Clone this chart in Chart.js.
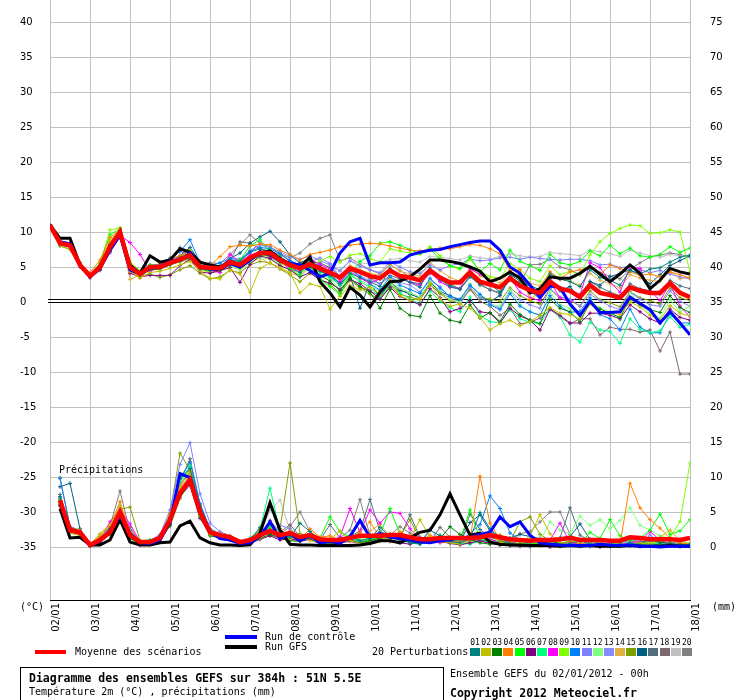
<!DOCTYPE html>
<html>
<head>
<meta charset="utf-8">
<script src="https://cdn.jsdelivr.net/npm/chart.js@4.4.1/dist/chart.umd.min.js"></script>
<style>
  body { margin: 0; background: #fff; }
  #wrap { position: relative; width: 740px; height: 700px; overflow: hidden; }
  #c { position: absolute; left: 0; top: 0; }
  .t { position: absolute; font-family: 'DejaVu Sans Mono', monospace; font-size: 10px; line-height: 10px; white-space: nowrap; color: #000; }
  .b { font-weight: bold; font-size: 11.5px; line-height: 12px; }
  .sw { position: absolute; height: 4px; width: 32px; }
  .box { position: absolute; width: 10px; height: 8px; }
  .num { position: absolute; font-family: 'DejaVu Sans Mono', monospace; font-size: 8px; line-height: 8px; width: 11px; text-align: center; }
  #frame { position: absolute; left: 20px; top: 667px; width: 422px; height: 40px; border: 1px solid #000; }
</style>
</head>
<body>
<div id="wrap">
  <canvas id="c" width="740" height="640"></canvas>
  <div class="t" style="left:20px;top:602px">(°C)</div>
  <div class="t" style="left:712px;top:602px">(mm)</div>
  <div class="t" style="left:59px;top:465px">Précipitations</div>

  <div class="sw" style="left:225px;top:635px;background:#0000ff"></div>
  <div class="t" style="left:265px;top:632px">Run de contrôle</div>
  <div class="sw" style="left:225px;top:645px;background:#000"></div>
  <div class="t" style="left:265px;top:642px">Run GFS</div>
  <div class="sw" style="left:35px;top:650px;width:31px;background:#ff0000"></div>
  <div class="t" style="left:75px;top:647px">Moyenne des scénarios</div>
  <div class="t" style="left:372px;top:647px">20 Perturbations</div>
  <div id="boxes"></div>

  <div id="frame"></div>
  <div class="t b" style="left:29px;top:672px">Diagramme des ensembles GEFS sur 384h : 51N 5.5E</div>
  <div class="t" style="left:29px;top:687px">Température 2m (°C) , précipitations (mm)</div>
  <div class="t" style="left:450px;top:669px">Ensemble GEFS du 02/01/2012 - 00h</div>
  <div class="t b" style="left:450px;top:687px">Copyright 2012 Meteociel.fr</div>
</div>
<script>
// run 02/01/2012 00h, one value every 6h up to 384h
const dayLabels = ['02/01', '03/01', '04/01', '05/01', '06/01', '07/01', '08/01', '09/01', '10/01',
    '11/01', '12/01', '13/01', '14/01', '15/01', '16/01', '17/01', '18/01'];
const tempTicks = [-35, -30, -25, -20, -15, -10, -5, 0, 5, 10, 15, 20, 25, 30, 35, 40];
const mmTicks = [0, 5, 10, 15, 20, 25, 30, 35, 40, 45, 50, 55, 60, 65, 70, 75];

const pertColors = ['#008080', '#c0c000', '#008000', '#ff8000', '#00ff00', '#800080', '#00ff80',
    '#ff00ff', '#80ff00', '#0080ff', '#8080ff', '#80ff80', '#8888ff', '#e0b040', '#80a000',
    '#006080', '#507080', '#806870', '#c0c0c0', '#808080'];

// temperature 2m (°C)
const tMean = [11.0, 8.4, 8.1, 5.3, 3.7, 5.0, 7.9, 10.0, 5.0, 4.0, 5.0, 5.0, 5.6, 6.1, 6.7, 5.0,
    4.9, 4.8, 5.7, 5.3, 6.3, 7.0, 7.0, 6.0, 5.3, 4.8, 5.4, 4.8, 4.2, 3.5, 4.8, 4.3,
    3.7, 3.4, 4.5, 3.7, 3.5, 3.1, 4.5, 3.5, 2.8, 2.8, 4.2, 2.9, 2.5, 2.1, 3.4, 2.3,
    1.7, 1.3, 2.9, 1.9, 1.6, 0.7, 2.4, 1.3, 1.0, 0.6, 2.1, 1.6, 1.3, 1.3, 2.7, 1.3, 0.7];
const tCtrl = [11.0, 8.6, 8.3, 5.2, 3.6, 4.8, 7.5, 9.6, 4.6, 4.0, 4.8, 5.1, 5.8, 6.0, 7.0, 5.0,
    4.7, 4.6, 5.5, 5.0, 6.0, 7.2, 6.8, 5.8, 5.5, 5.3, 4.5, 3.6, 4.1, 7.0, 8.6, 9.1,
    5.3, 5.6, 5.6, 5.7, 6.7, 7.1, 7.4, 7.5, 7.9, 8.2, 8.5, 8.7, 8.7, 7.4, 5.0, 4.1,
    2.4, 0.7, 2.3, 2.1, -0.3, -1.9, 0.1, -1.5, -1.5, -1.4, 0.7, -0.2, -1.1, -3.0, -1.4, -3.0, -4.7];
const tGfs = [11.0, 9.1, 9.1, 5.3, 3.7, 4.9, 7.7, 10.0, 5.3, 4.1, 6.6, 5.7, 6.0, 7.6, 7.1, 5.7,
    5.3, 5.0, 5.8, 5.0, 6.0, 7.0, 7.3, 6.2, 5.5, 5.0, 6.4, 2.9, 1.3, -0.7, 2.1, 1.0,
    -0.7, 1.4, 2.9, 3.0, 3.6, 4.7, 6.0, 6.0, 5.8, 5.5, 5.0, 4.4, 2.9, 3.4, 4.3, 3.4,
    1.3, 1.9, 3.6, 3.4, 3.4, 4.1, 5.1, 4.0, 2.9, 4.0, 5.3, 4.1, 1.9, 3.1, 4.8, 4.3, 4.0];

const tP01 = [11.0, 8.2, 8.0, 5.2, 3.8, 5.2, 8.2, 10.2, 4.8, 3.8, 4.9, 5.2, 5.9, 6.3, 7.0, 4.8,
    4.6, 4.9, 6.0, 5.8, 7.1, 7.6, 7.2, 6.4, 5.1, 4.2, 5.9, 4.4, 3.8, 2.6, 4.1, 3.5,
    2.9, 2.2, 4.8, 3.4, 2.8, 2.1, 4.9, 3.2, 2.2, 1.8, 3.6, 2.5, 2.6, 1.4, 3.9, 3.0,
    2.4, 1.7, 4.0, 3.3, 2.9, 2.2, 4.6, 3.5, 3.1, 2.4, 4.5, 4.0, 4.7, 4.9, 5.7, 6.4, 6.7];
const tP02 = [11.0, 8.0, 7.6, 5.1, 3.9, 5.4, 8.8, 10.5, 4.4, 3.5, 4.2, 4.4, 4.8, 5.3, 5.8, 4.4,
    3.4, 3.3, 4.6, 4.0, 1.4, 4.8, 5.6, 4.9, 4.2, 1.3, 2.6, 2.2, -1.0, 0.8, 2.4, 1.7,
    2.1, 1.1, 3.2, 0.9, 0.2, 0.5, 2.7, 0.4, -0.6, -0.3, -0.9, -2.2, -4.0, -3.1, -2.6, -3.4,
    -2.8, -1.9, -0.8, -1.6, -1.8, -2.4, -0.3, -1.4, -1.4, -1.8, 0.0, -0.7, -1.9, -2.6, -0.5, -1.6, -2.0];
const tP03 = [11.0, 8.5, 8.3, 5.3, 3.5, 4.7, 7.4, 9.6, 5.1, 3.7, 4.6, 4.7, 5.3, 5.8, 6.3, 4.7,
    4.5, 4.6, 5.3, 5.0, 6.2, 6.8, 6.6, 5.8, 5.4, 4.6, 5.0, 3.8, 3.0, 1.6, 3.4, 2.2,
    1.4, -0.9, 1.8, -0.9, -1.9, -2.1, 0.9, -1.6, -2.6, -2.9, -0.4, -2.3, -1.5, -2.8, -0.3, -1.8,
    -2.6, -3.1, 0.4, -0.9, -1.4, -2.8, -0.1, -1.0, -1.6, -2.2, 0.4, -0.4, -1.1, -1.5, 0.9, -0.8, -1.5];
const tP04 = [11.0, 8.6, 8.3, 5.5, 4.2, 6.0, 9.2, 10.4, 4.4, 3.4, 4.9, 5.5, 6.2, 6.6, 7.3, 5.8,
    5.2, 6.5, 7.9, 8.1, 8.0, 8.3, 8.2, 7.4, 6.8, 6.0, 6.8, 7.1, 7.4, 7.9, 8.1, 8.3,
    8.4, 8.3, 8.0, 7.7, 7.4, 7.3, 7.5, 7.7, 7.6, 7.9, 8.2, 8.1, 7.6, 6.9, 4.5, 4.6,
    0.3, 1.5, 4.3, 3.3, 4.3, 4.6, 4.9, 3.9, 5.3, 4.8, 4.3, 3.8, 4.0, 3.6, 4.3, 3.9, 3.4];
const tP05 = [11.0, 8.3, 8.0, 5.4, 3.9, 5.6, 9.6, 10.5, 5.5, 4.2, 5.3, 5.2, 5.7, 6.4, 7.4, 5.3,
    4.6, 4.9, 5.6, 6.0, 8.0, 8.9, 7.1, 6.5, 4.8, 3.8, 6.0, 3.2, 2.2, 1.0, 3.9, 5.8,
    6.6, 8.4, 8.6, 8.1, 7.5, 6.9, 7.6, 6.1, 5.2, 4.8, 6.4, 4.3, 5.5, 4.6, 7.4, 5.8,
    5.2, 4.5, 6.8, 5.6, 5.3, 5.8, 7.3, 6.6, 8.1, 6.9, 7.7, 6.6, 6.4, 6.8, 7.9, 7.1, 7.7];
const tP06 = [11.0, 8.3, 8.0, 5.2, 3.6, 4.6, 7.2, 9.2, 4.1, 3.6, 3.8, 3.8, 3.8, 5.2, 6.1, 4.3,
    4.1, 4.5, 4.9, 2.8, 5.4, 6.6, 6.2, 5.2, 4.6, 3.6, 4.2, 3.1, 2.7, 1.8, 3.2, 2.6,
    1.6, 0.4, 2.1, 0.8, 0.2, -0.4, 1.9, 0.6, -1.4, -0.9, 0.2, -1.4, -1.6, -3.0, -0.9, -2.0,
    -2.6, -4.0, -1.0, -1.9, -3.0, -3.0, -1.6, -1.6, -1.9, -2.4, -0.4, -1.4, -2.4, -3.0, -1.0, -2.2, -2.6];
const tP07 = [11.0, 8.5, 8.2, 5.3, 3.8, 5.1, 8.3, 10.2, 5.3, 4.3, 4.9, 5.0, 5.6, 6.0, 6.8, 5.1,
    4.8, 4.7, 5.4, 5.1, 6.0, 6.5, 7.5, 6.2, 5.5, 4.9, 5.5, 4.4, 3.5, 2.4, 3.9, 2.9,
    2.1, 0.6, 2.6, 1.3, 0.4, -0.3, 1.6, 0.1, -0.8, -1.4, 0.7, -1.9, -2.8, -3.0, -1.1, -2.4,
    -2.9, -3.1, -0.8, -2.1, -4.7, -5.7, -2.9, -4.0, -4.2, -5.9, -2.4, -3.9, -4.4, -4.1, -2.1, -3.6, -3.2];
const tP08 = [11.0, 8.4, 8.2, 5.4, 3.9, 5.3, 7.6, 9.5, 8.5, 6.8, 4.4, 4.9, 5.4, 6.2, 6.5, 4.9,
    4.5, 4.2, 6.8, 5.7, 6.7, 7.2, 6.4, 5.9, 4.7, 4.3, 6.1, 5.4, 4.7, 2.9, 4.4, 3.4,
    2.7, 3.3, 4.6, 3.6, 2.8, 2.4, 4.2, 2.9, 2.1, 1.9, 4.7, 4.0, 2.9, 2.2, 3.5, 1.4,
    0.6, 0.2, 2.9, 0.6, -0.1, 1.0, 5.6, 4.9, 2.9, 1.4, 5.0, 4.8, 1.6, 0.2, 2.6, -0.6, -2.1];
const tP09 = [11.0, 8.6, 8.4, 5.4, 3.8, 5.5, 10.3, 10.6, 5.8, 4.4, 5.1, 5.1, 5.7, 6.1, 6.5, 4.9,
    4.2, 4.5, 5.4, 4.9, 5.8, 6.8, 6.4, 5.5, 4.9, 4.2, 4.9, 5.9, 6.5, 5.7, 6.7, 6.9,
    6.2, 5.7, 7.6, 7.3, 7.0, 6.8, 7.9, 6.6, 5.1, 4.7, 6.1, 4.5, 3.6, 3.4, 5.5, 4.6,
    3.4, 2.9, 5.2, 3.9, 4.4, 3.9, 6.7, 8.6, 9.8, 10.5, 11.0, 10.9, 9.8, 9.9, 10.3, 10.0, 4.3];
const tP10 = [11.0, 8.5, 8.2, 5.2, 3.7, 4.8, 7.7, 10.1, 5.2, 4.1, 5.2, 5.4, 6.3, 7.2, 8.9, 5.6,
    5.2, 5.6, 6.2, 6.1, 7.2, 7.8, 7.6, 6.9, 5.9, 5.3, 5.7, 5.2, 3.8, 2.7, 4.7, 3.6,
    2.6, 1.7, 3.6, 2.4, 1.8, 1.2, 3.4, 2.0, 0.8, 0.4, 2.4, 1.1, -0.4, -1.1, 1.2, -0.6,
    -1.4, -1.9, 0.9, -0.6, -1.5, -1.3, 0.6, -1.8, -2.4, -4.0, -1.0, -3.6, -4.4, -4.4, -1.6, -3.0, -3.0];
const tP11 = [11.0, 8.1, 7.9, 5.0, 3.4, 4.5, 7.0, 9.4, 4.9, 3.9, 4.8, 5.3, 5.9, 6.6, 7.5, 5.5,
    5.4, 5.1, 6.1, 5.8, 7.4, 8.1, 7.8, 7.2, 6.5, 6.1, 6.6, 5.9, 5.3, 4.4, 5.9, 5.1,
    4.6, 4.2, 5.7, 5.0, 4.3, 4.1, 5.3, 4.6, 5.2, 5.5, 6.1, 5.9, 6.0, 6.3, 6.4, 6.1,
    6.4, 6.2, 6.1, 6.0, 6.1, 6.1, 5.9, 5.3, 5.4, 4.9, 5.1, 4.6, 4.2, 4.5, 4.0, 3.6, 3.3];
const tP12 = [11.0, 8.3, 8.1, 5.4, 3.7, 5.0, 8.0, 9.9, 4.8, 3.9, 5.1, 4.8, 5.3, 5.9, 6.4, 4.6,
    4.4, 4.3, 5.1, 4.7, 5.6, 6.4, 6.1, 5.3, 4.5, 3.6, 4.9, 4.0, 3.4, 1.7, 4.0, 3.1,
    2.4, 1.5, 3.3, 2.0, 1.3, 0.7, 3.0, 1.6, 0.4, 0.0, 2.6, 1.0, -0.4, -0.6, 1.7, -0.4,
    -1.4, -1.9, 1.4, -0.4, -0.9, -2.1, 0.4, -0.9, -1.4, -2.6, 1.3, -0.4, -1.6, -2.3, 0.3, -1.4, -0.6];
const tP13 = [11.0, 8.2, 7.8, 5.1, 3.6, 4.8, 7.6, 9.7, 5.1, 4.1, 5.2, 5.4, 5.7, 6.2, 6.6, 5.1,
    5.0, 4.6, 5.8, 5.4, 6.9, 8.6, 7.3, 6.1, 5.6, 5.0, 5.8, 6.3, 5.5, 3.6, 4.7, 3.7,
    3.1, 2.6, 3.6, 2.8, 2.4, 1.4, 3.1, 2.2, 0.6, -0.4, 2.1, 0.6, -0.2, -0.9, 1.6, 0.3,
    -0.4, -0.9, 1.9, 0.7, 0.4, -0.6, 1.1, 0.2, -0.6, -1.1, 1.4, 0.4, -0.4, -0.6, 1.6, 0.1, -0.6];
const tP14 = [11.0, 8.4, 8.2, 5.4, 3.9, 5.1, 8.0, 9.9, 3.2, 3.9, 4.7, 4.8, 5.3, 5.7, 6.1, 4.6,
    4.2, 4.4, 5.1, 4.6, 5.6, 6.3, 5.5, 4.8, 4.1, 3.7, 5.1, 4.4, 4.2, 3.5, 5.2, 4.6,
    4.1, 3.8, 5.4, 4.4, 4.0, 3.7, 5.7, 4.5, 3.5, 3.0, 4.9, 3.7, 3.3, 2.7, 4.3, 3.4,
    2.7, 2.3, 4.3, 3.2, 3.0, 2.4, 4.1, 3.1, 2.6, 2.0, 3.9, 3.4, 3.1, 2.9, 4.4, 3.3, 3.6];
const tP15 = [11.0, 8.0, 7.5, 5.0, 3.8, 5.2, 8.6, 10.1, 4.6, 3.7, 4.0, 3.5, 3.9, 4.6, 5.2, 4.1,
    3.3, 3.6, 4.5, 4.2, 5.3, 5.8, 5.6, 4.7, 3.9, 2.9, 4.1, 3.3, 2.5, 1.2, 3.1, 2.0,
    1.1, 0.4, 2.3, 1.1, 0.7, 0.3, 2.5, 1.2, 0.2, -0.2, 1.8, 0.6, 0.4, 0.1, 2.0, 0.9,
    0.2, -0.3, 1.9, 0.5, 0.2, -0.6, 1.6, 0.3, -0.1, -0.7, 1.5, 0.6, 0.2, -0.3, 2.0, 0.6, 0.2];
const tP16 = [11.0, 8.6, 8.4, 5.6, 3.9, 5.2, 8.0, 9.8, 4.7, 3.8, 4.7, 4.9, 5.5, 6.6, 7.8, 5.7,
    5.4, 5.1, 6.2, 7.0, 8.4, 9.3, 10.1, 8.6, 6.7, 5.6, 6.2, 5.0, 4.1, 2.6, 3.9, -0.9,
    2.8, 0.6, 2.9, 1.7, 1.1, 0.6, 2.8, 1.5, 0.9, 0.2, 2.4, 1.0, 0.1, 0.9, 3.6, 3.9,
    1.7, 0.4, 3.4, 1.6, 2.2, 0.5, 2.9, 2.4, 3.6, 4.1, 4.6, 3.9, 2.6, 3.9, 5.2, 5.9, 6.6];
const tP17 = [11.0, 8.4, 8.1, 5.3, 3.7, 5.0, 7.8, 10.0, 5.1, 4.0, 5.0, 4.9, 5.4, 6.0, 6.5, 4.9,
    4.6, 4.9, 5.6, 5.2, 6.2, 6.7, 6.9, 6.1, 5.6, 5.1, 5.6, 5.6, 4.9, 3.7, 4.9, 4.3,
    3.4, 2.6, 3.8, 3.3, 2.9, 2.6, 4.1, 3.3, 2.4, 1.9, 3.6, 2.6, 1.7, 1.4, 3.1, 2.4,
    1.4, 0.9, 2.6, 1.8, 1.6, 1.1, 2.9, 2.1, 1.4, 0.9, 2.6, 1.9, 1.6, 1.1, 3.1, 2.3, 1.9];
const tP18 = [11.0, 8.4, 8.0, 5.2, 3.8, 5.0, 8.2, 10.3, 5.0, 4.1, 5.1, 5.3, 6.0, 7.3, 6.4, 5.0,
    4.7, 4.9, 5.9, 8.6, 8.4, 7.6, 7.2, 6.8, 5.9, 5.3, 5.0, 4.4, 3.6, 2.4, 3.4, 2.2,
    1.5, 1.0, 2.4, 1.6, 1.4, 0.4, 2.5, 1.3, 0.6, 0.1, 1.8, 0.1, -0.6, -1.9, -0.9, -3.1,
    -2.9, -2.3, -1.1, -2.1, -3.1, -2.4, -2.4, -4.7, -3.6, -3.9, -3.9, -4.3, -4.0, -7.0, -4.3, -10.3, -10.3];
const tP19 = [11.0, 8.3, 8.0, 5.3, 3.8, 5.0, 7.7, 9.8, 5.0, 4.0, 4.9, 5.0, 5.7, 6.1, 6.6, 5.1,
    4.8, 4.8, 5.6, 5.3, 6.3, 7.0, 6.8, 6.1, 5.3, 4.9, 5.4, 5.1, 4.9, 4.6, 5.8, 5.6,
    5.4, 5.6, 6.1, 6.2, 5.9, 5.7, 6.5, 6.4, 6.2, 6.0, 6.6, 6.3, 6.2, 6.5, 6.9, 6.6,
    6.4, 6.5, 7.1, 6.9, 6.8, 6.6, 7.4, 7.2, 6.9, 6.5, 7.4, 7.0, 6.6, 6.4, 6.8, 6.6, 6.4];
const tP20 = [11.0, 8.2, 7.9, 5.2, 3.6, 4.9, 8.4, 10.4, 5.4, 4.3, 5.3, 5.1, 5.9, 7.8, 7.2, 5.4,
    5.6, 5.5, 6.8, 8.2, 9.6, 8.4, 7.9, 6.9, 6.3, 7.0, 8.3, 9.1, 9.6, 5.9, 6.3, 5.4,
    4.6, 4.0, 5.3, 4.5, 3.5, 3.1, 4.6, 3.4, 2.5, 1.9, 3.7, 2.4, 1.8, 1.1, 3.6, 2.7,
    5.3, 5.4, 6.1, 5.0, 4.6, 3.9, 5.1, 4.2, 3.7, 3.3, 4.6, 5.6, 6.4, 6.7, 7.0, 6.8, 6.4];

// precipitations (mm per 6h), nothing at 0h
const pMean = [null, 6.7, 2.4, 2.1, 0.3, 1.0, 2.1, 5.0, 1.7, 0.7, 0.7, 1.3, 3.9, 7.7, 9.6, 5.0,
    2.1, 1.7, 1.4, 0.7, 1.0, 1.7, 2.3, 1.7, 2.0, 1.4, 1.7, 1.1, 1.0, 1.0, 1.3, 1.6,
    1.6, 1.6, 1.7, 1.7, 1.4, 1.1, 1.1, 1.3, 1.3, 1.3, 1.3, 1.4, 1.7, 1.4, 1.1, 1.0,
    0.9, 1.0, 1.0, 1.1, 1.3, 1.0, 1.0, 1.0, 0.9, 0.9, 1.4, 1.3, 1.1, 1.1, 1.1, 1.0, 1.3];
const pCtrl = [null, 6.2, 2.6, 2.0, 0.2, 0.8, 2.4, 4.4, 1.9, 0.6, 0.5, 1.0, 3.5, 10.5, 9.9, 5.2,
    2.2, 1.2, 1.0, 0.5, 0.6, 1.5, 3.6, 1.2, 1.9, 0.9, 1.6, 0.6, 0.8, 0.5, 1.5, 3.8,
    1.4, 1.9, 1.4, 1.2, 1.0, 0.7, 0.6, 0.9, 1.0, 1.4, 1.3, 1.8, 2.1, 4.3, 2.9, 3.6,
    1.7, 0.6, 0.4, 0.3, 0.2, 0.2, 0.2, 0.4, 0.3, 0.2, 0.3, 0.1, 0.1, 0.0, 0.1, 0.1, 0.1];
const pGfs = [null, 5.5, 1.3, 1.4, 0.3, 0.3, 1.0, 3.9, 0.7, 0.3, 0.3, 0.6, 0.7, 3.0, 3.7, 1.3,
    0.6, 0.3, 0.3, 0.2, 0.3, 2.0, 6.3, 2.4, 0.4, 0.3, 0.3, 0.2, 0.2, 0.2, 0.2, 0.3,
    0.5, 0.9, 0.9, 0.6, 1.3, 2.1, 2.4, 4.6, 7.6, 4.6, 1.7, 2.0, 0.7, 0.4, 0.3, 0.3,
    0.2, 0.2, 0.2, 0.1, 0.2, 0.1, 0.2, 0.1, 0.1, 0.1, 0.2, 0.1, 0.1, 0.1, 0.2, 0.1, 0.1];

const pP01 = [null, 7.2, 2.5, 2.2, 0.3, 1.2, 2.6, 4.8, 1.5, 0.6, 0.8, 1.6, 4.2, 9.8, 11.2, 5.8,
    2.4, 1.6, 1.2, 0.6, 0.9, 2.8, 2.1, 1.6, 1.4, 3.4, 2.2, 0.9, 0.7, 1.1, 1.6, 0.9,
    1.2, 2.8, 1.5, 1.0, 0.6, 0.4, 2.4, 1.6, 0.8, 0.6, 1.2, 4.9, 2.6, 1.3, 0.5, 0.3,
    0.2, 0.4, 0.3, 0.2, 0.5, 0.9, 0.4, 0.2, 0.1, 0.2, 0.6, 0.3, 0.2, 0.4, 0.3, 0.2, 0.4];
const pP02 = [null, 6.1, 2.0, 1.6, 0.2, 1.8, 3.1, 5.6, 2.2, 0.8, 0.4, 0.9, 3.6, 8.4, 10.3, 4.5,
    1.8, 1.4, 1.6, 0.6, 0.5, 1.3, 2.4, 1.9, 1.1, 1.4, 0.9, 0.7, 1.1, 2.3, 0.9, 0.5,
    0.6, 0.8, 1.2, 1.8, 1.1, 3.9, 1.4, 0.8, 0.6, 0.4, 1.6, 1.3, 1.9, 0.7, 0.4, 0.5,
    1.6, 4.6, 1.9, 0.6, 0.3, 0.2, 0.4, 0.6, 0.3, 0.2, 0.4, 0.6, 0.3, 1.4, 2.4, 0.9, 0.4];
const pP03 = [null, 5.9, 2.2, 2.0, 0.4, 0.7, 1.8, 4.0, 1.2, 0.4, 0.6, 1.1, 3.0, 7.0, 9.2, 4.3,
    1.6, 1.3, 1.1, 0.4, 0.6, 1.2, 1.8, 1.3, 0.9, 0.8, 1.4, 0.6, 0.4, 0.7, 1.0, 0.6,
    0.9, 1.3, 1.8, 1.2, 0.7, 0.5, 0.8, 1.2, 2.9, 1.8, 1.1, 0.6, 0.4, 0.8, 0.5, 0.3,
    0.2, 0.3, 0.8, 0.5, 0.3, 0.2, 0.2, 0.5, 0.3, 0.4, 0.3, 0.6, 1.0, 0.7, 0.5, 0.3, 0.3];
const pP04 = [null, 6.4, 2.8, 2.4, 0.3, 1.5, 2.9, 6.5, 2.0, 0.7, 0.7, 1.2, 4.6, 8.8, 10.8, 5.4,
    2.4, 1.9, 1.5, 0.8, 0.9, 2.5, 2.2, 1.7, 2.3, 1.1, 2.6, 1.4, 1.6, 0.9, 1.2, 2.1,
    3.6, 1.4, 0.9, 2.2, 1.3, 0.8, 1.7, 1.1, 0.9, 0.7, 1.0, 10.1, 3.4, 1.1, 0.6, 0.4,
    0.3, 0.2, 0.5, 0.4, 0.8, 0.5, 0.3, 0.2, 0.2, 0.3, 9.1, 5.6, 3.9, 2.7, 1.2, 0.6, 0.4];
const pP05 = [null, 6.8, 2.4, 1.9, 0.2, 1.0, 2.3, 5.1, 1.6, 0.9, 1.0, 1.5, 3.8, 7.9, 9.5, 4.8,
    2.0, 1.5, 1.3, 0.7, 0.8, 1.6, 2.9, 1.5, 1.6, 1.2, 1.9, 1.3, 4.3, 2.2, 1.4, 1.7,
    1.0, 1.7, 5.5, 1.8, 1.2, 0.7, 0.9, 1.0, 1.4, 0.9, 5.3, 1.2, 0.8, 0.6, 0.4, 0.5,
    0.4, 0.6, 0.3, 0.5, 0.9, 0.4, 2.1, 1.2, 3.9, 1.6, 0.9, 1.3, 2.4, 4.7, 1.8, 2.3, 3.9];
const pP06 = [null, 6.0, 2.1, 2.0, 0.1, 0.6, 1.9, 3.9, 1.3, 0.3, 0.4, 0.8, 3.2, 7.3, 8.8, 4.1,
    1.8, 1.5, 1.2, 0.4, 0.5, 1.1, 1.6, 1.0, 1.2, 0.8, 1.1, 0.4, 0.4, 0.6, 0.8, 0.5,
    0.7, 1.1, 0.8, 0.6, 0.4, 0.9, 1.3, 0.8, 0.5, 0.3, 0.6, 0.9, 0.5, 0.3, 0.2, 0.1,
    0.1, 0.2, 0.0, 0.1, 0.4, 0.2, 0.1, 0.0, 0.1, 0.2, 0.3, 0.1, 0.2, 0.4, 0.2, 0.1, 0.3];
const pP07 = [null, 6.6, 2.3, 2.1, 0.3, 1.1, 2.0, 4.6, 1.6, 0.6, 0.9, 1.3, 4.1, 9.1, 11.6, 5.3,
    2.2, 1.4, 1.1, 0.5, 1.3, 2.6, 8.4, 2.2, 1.4, 1.0, 1.3, 0.8, 0.9, 1.1, 1.3, 0.9,
    0.8, 1.0, 1.4, 1.1, 0.8, 0.5, 0.9, 1.7, 1.2, 0.6, 0.4, 0.9, 0.7, 0.3, 0.2, 0.2,
    0.1, 0.4, 0.2, 0.3, 0.2, 0.1, 0.5, 0.3, 0.2, 0.1, 0.4, 0.2, 0.3, 0.6, 0.2, 0.1, 0.2];
const pP08 = [null, 6.9, 2.2, 1.8, 0.2, 0.9, 3.6, 5.4, 3.3, 0.7, 0.6, 1.2, 3.4, 8.1, 10.1, 4.6,
    1.9, 1.3, 1.0, 0.5, 0.7, 1.7, 1.9, 1.2, 1.3, 0.9, 1.8, 1.1, 0.9, 1.4, 5.5, 2.1,
    5.3, 3.4, 5.0, 4.8, 2.6, 1.2, 0.9, 0.6, 0.8, 0.7, 1.2, 0.8, 1.1, 0.6, 0.4, 0.3,
    0.3, 0.5, 1.0, 3.4, 0.6, 0.4, 0.3, 0.2, 0.4, 0.3, 0.6, 0.8, 2.2, 1.0, 0.4, 0.3, 0.3];
const pP09 = [null, 6.3, 2.0, 1.7, 0.2, 1.3, 2.8, 5.8, 1.8, 0.6, 0.8, 1.4, 4.4, 9.5, 11.0, 5.1,
    2.0, 1.5, 1.3, 0.6, 0.8, 1.5, 2.0, 1.4, 1.2, 1.0, 1.2, 0.7, 1.0, 0.8, 1.5, 1.0,
    0.9, 1.2, 1.6, 1.3, 1.0, 0.6, 1.1, 0.8, 0.6, 0.5, 0.7, 1.4, 0.9, 0.5, 0.4, 0.3,
    0.3, 0.6, 0.4, 0.3, 0.5, 0.3, 0.2, 0.3, 0.6, 0.4, 0.3, 0.5, 0.6, 0.8, 1.4, 3.6, 12.0];
const pP10 = [null, 9.8, 2.9, 2.3, 0.3, 1.1, 2.5, 4.9, 2.3, 0.8, 0.9, 1.3, 4.3, 9.9, 12.0, 6.2,
    2.6, 1.8, 1.4, 0.6, 0.8, 1.6, 2.1, 1.4, 1.1, 1.0, 1.4, 0.8, 0.9, 1.2, 1.3, 0.8,
    1.0, 1.2, 1.4, 1.1, 0.9, 0.6, 0.8, 1.6, 1.1, 1.0, 1.9, 3.2, 7.3, 5.5, 2.0, 1.0,
    0.4, 0.3, 0.2, 0.2, 0.4, 0.3, 0.2, 0.1, 0.2, 0.3, 0.2, 0.1, 0.2, 0.3, 0.2, 0.1, 0.1];
const pP11 = [null, 7.0, 2.6, 2.3, 0.4, 1.4, 2.7, 5.9, 2.4, 0.7, 0.9, 1.8, 5.3, 11.8, 14.9, 7.6,
    3.4, 2.2, 1.6, 0.8, 1.1, 2.3, 1.8, 3.1, 2.6, 1.4, 1.6, 1.0, 1.2, 1.0, 1.4, 1.6,
    1.4, 2.1, 1.5, 1.3, 1.0, 0.7, 1.0, 1.3, 1.1, 0.8, 1.2, 1.4, 0.9, 0.7, 0.5, 0.4,
    0.4, 0.6, 0.5, 0.4, 0.7, 0.5, 0.4, 0.3, 0.4, 0.6, 0.4, 0.3, 0.9, 0.6, 0.4, 0.3, 0.3];
const pP12 = [null, 6.5, 2.4, 2.2, 0.3, 1.2, 2.3, 4.7, 1.4, 0.5, 0.7, 1.3, 3.9, 8.9, 10.7, 5.6,
    2.3, 1.6, 1.3, 0.5, 0.8, 1.5, 2.0, 1.4, 1.2, 1.0, 1.5, 0.9, 0.7, 1.1, 1.3, 0.9,
    1.1, 1.2, 1.7, 1.3, 0.9, 0.6, 1.2, 0.9, 0.8, 1.1, 1.5, 1.2, 1.6, 1.3, 0.9, 0.7,
    0.6, 0.9, 3.6, 2.4, 1.9, 4.4, 3.1, 3.9, 2.6, 3.8, 5.6, 3.1, 2.4, 1.6, 1.2, 0.8, 0.6];
const pP13 = [null, 6.2, 2.3, 2.0, 0.3, 1.0, 2.2, 4.5, 1.9, 0.6, 0.8, 1.2, 3.8, 8.6, 11.4, 5.2,
    2.3, 1.6, 1.2, 0.6, 0.7, 1.4, 3.1, 1.7, 1.2, 0.9, 1.7, 0.9, 0.8, 1.0, 1.2, 0.9,
    1.2, 1.0, 1.9, 1.4, 0.9, 0.6, 2.6, 1.0, 0.8, 0.6, 0.9, 1.1, 0.8, 0.6, 0.4, 0.3,
    0.3, 0.4, 0.3, 0.3, 0.9, 0.4, 0.3, 0.2, 0.3, 0.4, 0.4, 0.3, 1.7, 0.8, 0.4, 0.3, 0.2];
const pP14 = [null, 5.8, 2.2, 2.0, 0.4, 1.9, 3.3, 4.3, 1.7, 0.6, 0.6, 1.1, 3.7, 8.2, 9.1, 4.6,
    2.1, 1.4, 1.2, 0.6, 0.7, 1.4, 1.6, 1.3, 1.1, 0.9, 1.2, 0.8, 0.7, 1.0, 1.1, 0.8,
    2.3, 3.2, 1.6, 1.1, 0.8, 0.6, 0.9, 1.3, 0.9, 0.7, 0.8, 1.6, 0.9, 0.6, 0.4, 0.3,
    0.3, 0.5, 0.4, 0.6, 0.5, 0.4, 0.3, 0.2, 0.3, 0.4, 0.3, 0.2, 0.4, 0.6, 0.3, 0.2, 0.2];
const pP15 = [null, 6.7, 2.5, 2.3, 0.3, 1.2, 2.6, 5.4, 5.7, 0.9, 0.8, 1.4, 4.8, 13.4, 11.0, 5.7,
    2.5, 1.7, 1.4, 0.6, 0.9, 1.4, 2.2, 2.6, 12.0, 1.9, 1.5, 1.0, 0.9, 1.2, 1.6, 1.0,
    1.1, 1.4, 1.2, 1.5, 3.9, 1.1, 0.8, 0.9, 0.7, 0.6, 1.0, 1.3, 0.9, 1.7, 0.8, 3.6,
    4.3, 1.8, 0.9, 0.6, 0.5, 0.4, 0.5, 0.3, 0.4, 0.5, 0.4, 0.3, 0.5, 0.6, 1.3, 0.5, 0.3];
const pP16 = [null, 8.6, 9.1, 2.6, 0.3, 1.1, 2.4, 4.6, 1.8, 0.5, 0.7, 1.2, 4.0, 9.0, 10.5, 5.5,
    2.4, 1.7, 1.3, 0.6, 0.8, 1.7, 2.3, 1.5, 1.2, 1.0, 1.4, 0.8, 0.9, 1.1, 1.3, 0.9,
    1.2, 1.3, 1.6, 1.2, 0.9, 0.7, 1.0, 1.2, 1.0, 0.7, 3.5, 4.6, 2.3, 1.5, 1.3, 1.8,
    1.5, 1.2, 0.8, 1.2, 1.5, 3.3, 1.1, 0.6, 0.4, 0.5, 0.6, 0.4, 0.3, 0.5, 0.4, 0.3, 0.3];
const pP17 = [null, 7.5, 2.7, 2.2, 0.3, 1.0, 2.3, 5.0, 1.6, 0.6, 0.7, 1.3, 4.1, 9.3, 12.6, 6.1,
    2.5, 1.8, 1.4, 0.7, 0.9, 1.8, 2.2, 1.6, 1.4, 1.2, 1.6, 1.0, 3.2, 1.3, 1.5, 2.3,
    6.8, 2.2, 1.7, 1.3, 4.6, 1.4, 1.1, 0.9, 0.8, 0.7, 4.7, 2.5, 1.4, 0.9, 0.7, 0.5,
    0.4, 0.6, 0.5, 1.3, 5.6, 1.7, 0.8, 0.6, 0.5, 0.7, 0.9, 0.6, 0.5, 0.7, 0.5, 0.4, 0.4];
const pP18 = [null, 6.6, 2.3, 1.9, 0.2, 1.0, 2.1, 4.4, 2.8, 0.6, 0.6, 1.1, 3.5, 8.0, 9.7, 4.7,
    2.0, 1.5, 1.2, 0.5, 0.6, 1.3, 3.8, 2.1, 3.2, 1.5, 1.2, 0.7, 0.8, 1.0, 1.2, 0.8,
    0.9, 1.1, 1.4, 1.0, 0.8, 0.5, 0.8, 2.8, 1.4, 0.6, 0.5, 0.8, 0.6, 0.4, 0.3, 0.2,
    0.2, 0.4, 0.3, 0.2, 0.4, 0.3, 0.2, 0.1, 0.2, 0.3, 0.2, 0.1, 0.2, 0.3, 0.2, 0.1, 0.2];
const pP19 = [null, 6.4, 2.1, 1.9, 0.3, 1.0, 2.2, 4.6, 1.7, 0.6, 0.7, 1.2, 3.8, 8.6, 10.4, 5.0,
    2.1, 1.5, 1.2, 0.6, 0.8, 1.9, 5.2, 6.7, 2.4, 1.4, 1.3, 0.8, 0.8, 1.0, 1.2, 0.9,
    1.0, 1.1, 1.3, 1.0, 0.8, 0.6, 0.9, 1.1, 0.8, 0.6, 0.7, 1.0, 0.8, 0.5, 0.4, 0.3,
    0.3, 0.4, 0.3, 0.3, 0.4, 0.3, 0.2, 0.3, 0.4, 0.3, 0.4, 0.3, 0.4, 0.5, 0.3, 0.2, 0.3];
const pP20 = [null, 9.9, 2.9, 2.4, 0.4, 1.3, 3.0, 8.0, 2.1, 0.7, 0.8, 1.5, 4.5, 9.6, 12.2, 6.0,
    2.6, 1.9, 1.5, 0.7, 0.9, 2.1, 2.6, 1.8, 2.9, 5.0, 2.2, 1.2, 1.0, 1.3, 2.4, 6.8,
    1.6, 1.5, 1.7, 2.9, 2.0, 1.0, 1.2, 1.4, 1.1, 0.8, 1.0, 1.5, 1.1, 0.7, 0.5, 1.9,
    2.2, 3.6, 5.0, 5.0, 1.8, 0.9, 0.6, 0.4, 0.5, 0.7, 1.1, 0.8, 0.6, 1.3, 0.7, 0.5, 0.4];

const tPerts = [tP01, tP02, tP03, tP04, tP05, tP06, tP07, tP08, tP09, tP10,
    tP11, tP12, tP13, tP14, tP15, tP16, tP17, tP18, tP19, tP20];
const pPerts = [pP01, pP02, pP03, pP04, pP05, pP06, pP07, pP08, pP09, pP10,
    pP11, pP12, pP13, pP14, pP15, pP16, pP17, pP18, pP19, pP20];

// legend colour boxes of the 20 members
const boxes = document.getElementById('boxes');
pertColors.forEach((col, k) => {
    const b = document.createElement('div');
    b.className = 'box';
    b.style.left = (470 + k * 11.15) + 'px';
    b.style.top = '648px';
    b.style.background = col;
    boxes.appendChild(b);
    const n = document.createElement('div');
    n.className = 'num';
    n.style.left = (469.5 + k * 11.15) + 'px';
    n.style.top = '639px';
    n.textContent = String(k + 1).padStart(2, '0');
    boxes.appendChild(n);
});

function points(arr) {
    return arr.map((v, i) => ({ x: i * 6, y: v }));
}

const datasets = [];
// mean, control and GFS on top of the members
datasets.push({ data: points(tMean), borderColor: '#ff0000', borderWidth: 4.5, pointRadius: 0, yAxisID: 'y', order: 1 });
datasets.push({ data: points(pMean), borderColor: '#ff0000', borderWidth: 4.5, pointRadius: 0, yAxisID: 'y2', order: 1 });
datasets.push({ data: points(tCtrl), borderColor: '#0000ff', borderWidth: 3, pointRadius: 0, yAxisID: 'y', order: 2 });
datasets.push({ data: points(pCtrl), borderColor: '#0000ff', borderWidth: 3, pointRadius: 0, yAxisID: 'y2', order: 2 });
datasets.push({ data: points(tGfs), borderColor: '#000000', borderWidth: 3, pointRadius: 0, yAxisID: 'y', order: 3 });
datasets.push({ data: points(pGfs), borderColor: '#000000', borderWidth: 3, pointRadius: 0, yAxisID: 'y2', order: 3 });
pertColors.forEach((col, k) => {
    const common = {
        borderColor: col, borderWidth: 1, pointStyle: 'cross', pointRadius: 2,
        pointBorderColor: col, pointBorderWidth: 1, order: 10
    };
    datasets.push(Object.assign({ data: points(tPerts[k]), yAxisID: 'y' }, common));
    datasets.push(Object.assign({ data: points(pPerts[k]), yAxisID: 'y2' }, common));
});

// double black line at 0 °C
const zeroLine = {
    id: 'zeroLine',
    beforeDatasetsDraw(chart) {
        const { ctx, chartArea, scales } = chart;
        const y0 = Math.round(scales.y.getPixelForValue(0));
        ctx.save();
        ctx.strokeStyle = '#000';
        ctx.lineWidth = 1;
        [y0 - 3, y0].forEach(yy => {
            ctx.beginPath();
            ctx.moveTo(chartArea.left - 2, yy + 0.5);
            ctx.lineTo(chartArea.right, yy + 0.5);
            ctx.stroke();
        });
        ctx.restore();
    }
};

const tickFont = { family: 'DejaVu Sans', size: 10 };

new Chart(document.getElementById('c').getContext('2d'), {
    type: 'line',
    data: { datasets: datasets },
    plugins: [zeroLine],
    options: {
        responsive: false,
        animation: false,
        events: [],
        layout: { autoPadding: false, padding: { left: 20, right: 0, top: 0, bottom: 0 } },
        elements: { line: { tension: 0 } },
        plugins: { legend: { display: false }, tooltip: { enabled: false } },
        scales: {
            x: {
                type: 'linear', min: 0, max: 384,
                afterBuildTicks: s => { s.ticks = dayLabels.map((_, i) => ({ value: i * 24 })); },
                afterFit: s => { s.height = 40; s.paddingLeft = 0; s.paddingRight = 0; },
                grid: { color: '#c0c0c0', drawTicks: false },
                border: { color: '#000', width: 1 },
                ticks: {
                    autoSkip: false, minRotation: 90, maxRotation: 90, padding: 3, labelOffset: 6,
                    font: tickFont, color: '#000',
                    callback: (v, i) => dayLabels[i]
                }
            },
            y: {
                position: 'left', min: -42.571, max: 43.143,
                afterBuildTicks: s => { s.ticks = tempTicks.map(v => ({ value: v })); },
                afterFit: s => { s.width = 30; s.paddingTop = 0; s.paddingBottom = 0; },
                grid: { color: '#c0c0c0', drawTicks: false },
                border: { display: false },
                ticks: { crossAlign: 'far', padding: 0, font: tickFont, color: '#000' }
            },
            y2: {
                position: 'right', min: -7.571, max: 78.143,
                afterBuildTicks: s => { s.ticks = mmTicks.map(v => ({ value: v })); },
                afterFit: s => { s.width = 50; s.paddingTop = 0; s.paddingBottom = 0; },
                grid: { drawOnChartArea: false, drawTicks: false },
                border: { display: false },
                ticks: { padding: 20, font: tickFont, color: '#000' }
            }
        }
    }
});
</script>
</body>
</html>
